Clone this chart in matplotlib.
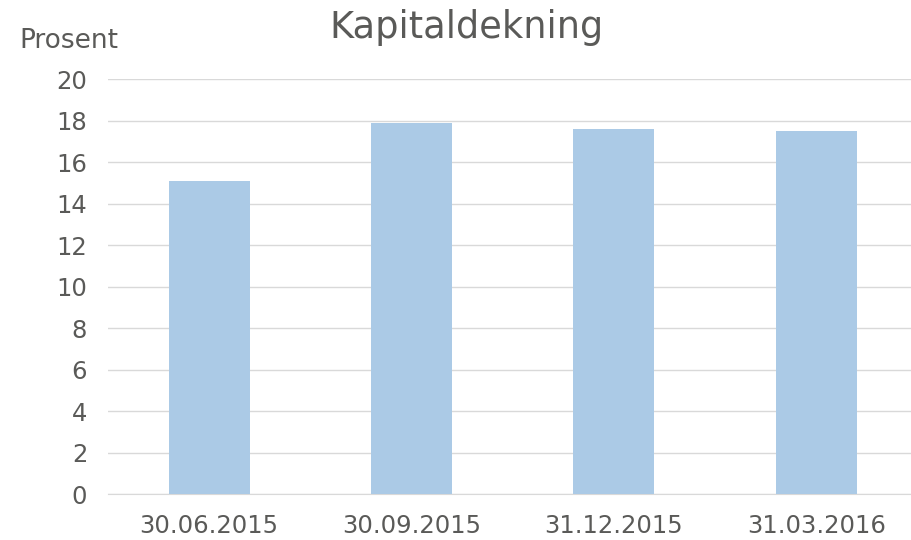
import matplotlib.pyplot as plt

plt.rcParams["font.family"] = ["DejaVu Sans"]

categories = ["30.06.2015", "30.09.2015", "31.12.2015", "31.03.2016"]
values = [15.1, 17.9, 17.6, 17.5]

text_color = "#5a5a58"
bar_color = "#abcae6"

fig = plt.figure(figsize=(9.12, 5.4), dpi=100)
ax = fig.add_axes([0.1184, 0.085, 0.8876, 0.7685])

x = range(len(categories))
ax.bar(x, values, width=0.4, color=bar_color, zorder=3)

ax.set_xlim(-0.5, len(categories) - 0.5)
ax.set_ylim(0, 20)
ax.set_yticks(range(0, 21, 2))
ax.set_xticks(list(x))
ax.set_xticklabels(categories)

ax.grid(axis="y", color="#d9d9d9", linewidth=1, zorder=0)
for side in ["top", "right", "left"]:
    ax.spines[side].set_visible(False)
ax.spines["bottom"].set_color("#d9d9d9")
ax.tick_params(axis="both", length=0, labelsize=17.5, colors=text_color)
ax.tick_params(axis="y", pad=15)
ax.tick_params(axis="x", pad=14)

fig.text(0.512, 0.95, "Kapitaldekning", ha="center", va="center",
         fontsize=26.5, color=text_color)
fig.text(0.075, 0.925, "Prosent", ha="center", va="center",
         fontsize=19, color=text_color)

fig.savefig("out.png", dpi=100)
